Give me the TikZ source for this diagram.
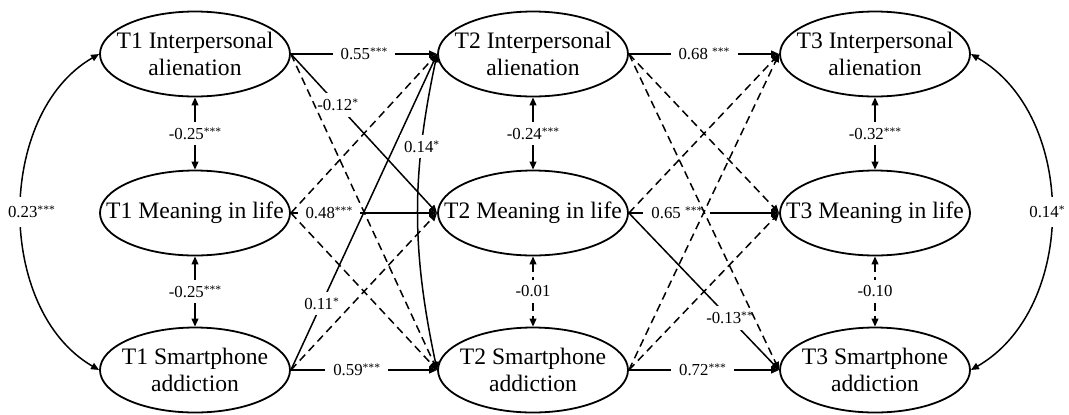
\documentclass[tikz,border=0pt]{standalone}
\usepackage{fontspec}
\setmainfont{Liberation Serif}
\usetikzlibrary{shapes.geometric,arrows.meta}

\newcommand{\pstar}[1]{\raisebox{1.9pt}{\fontsize{5.8}{6}\selectfont #1}}

\begin{document}
\begin{tikzpicture}[
        x=0.5pt, y=-0.5pt,
        >={Triangle[length=4pt,width=3.4pt]},
        latent/.style={draw, ellipse, line width=0.9pt, minimum width=95pt, minimum height=42.5pt, inner sep=0pt},
        vartext/.style={align=center, inner sep=0pt, font=\fontsize{11.8}{13.6}\selectfont},
        coef/.style={fill=white, inner xsep=4pt, inner ysep=3pt, font=\fontsize{8.4}{10}\selectfont},
        solidpath/.style={->, line width=0.75pt},
        dashpath/.style={->, line width=0.75pt, dash pattern=on 4pt off 2.5pt},
        cov/.style={<->, line width=0.75pt},
        dashcov/.style={<->, line width=0.75pt, dash pattern=on 4pt off 2.5pt},
    ]
    \useasboundingbox (0,0) rectangle (1069,414);

    \node[latent, label={[vartext, name=t1iaText]center:T1 Interpersonal\\alienation}] (t1ia) at (195,54) {};
    \node[latent, label={[vartext, name=t1mlText]center:T1 Meaning in life}] (t1ml) at (195,213) {};
    \node[latent, label={[vartext, name=t1saText]center:T1 Smartphone\\addiction}] (t1sa) at (195,370) {};
    \node[latent, label={[vartext, name=t2iaText]center:T2 Interpersonal\\alienation}] (t2ia) at (533,54) {};
    \node[latent, label={[vartext, name=t2mlText]center:T2 Meaning in life}] (t2ml) at (533,213) {};
    \node[latent, label={[vartext, name=t2saText]center:T2 Smartphone\\addiction}] (t2sa) at (533,370) {};
    \node[latent, label={[vartext, name=t3iaText]center:T3 Interpersonal\\alienation}] (t3ia) at (875,54) {};
    \node[latent, label={[vartext, name=t3mlText]center:T3 Meaning in life}] (t3ml) at (875,213) {};
    \node[latent, label={[vartext, name=t3saText]center:T3 Smartphone\\addiction}] (t3sa) at (875,370) {};

    \draw[solidpath] (t1ia.east) -- node[coef, pos=0.5] (b1) {0.55\pstar{***}} (t2ia.west);
    \draw[solidpath] (t1ml.east) -- node[coef, pos=0.26] (b2) {0.48\pstar{***}} (t2ml.west);
    \draw[solidpath] (t1sa.east) -- node[coef, pos=0.45] (b3) {0.59\pstar{***}} (t2sa.west);
    \draw[solidpath] (t2ia.east) -- node[coef, pos=0.5] (b4) {0.68 \pstar{***}} (t3ia.west);
    \draw[solidpath] (t2ml.east) -- node[coef, pos=0.32] (b5) {0.65 \pstar{***}} (t3ml.west);
    \draw[solidpath] (t2sa.east) -- node[coef, pos=0.49] (b6) {0.72\pstar{***}} (t3sa.west);

    \draw[solidpath] (t1ia.east) -- node[coef, pos=0.32] (b7) {-0.12\pstar{*}} (t2ml.west);
    \draw[solidpath] (t1sa.east) -- node[coef, pos=0.21] (b8) {0.11\pstar{*}} (t2ia.west);
    \draw[solidpath] (t2ml.east) -- node[coef, pos=0.67] (b9) {-0.13\pstar{**}} (t3sa.west);

    \draw[cov] (t1ia.south) -- node[coef] (r1) {-0.25\pstar{***}} (t1ml.north);
    \draw[cov] (t1ml.south) -- node[coef] (r2) {-0.25\pstar{***}} (t1sa.north);
    \draw[cov] (t2ia.south) -- node[coef] (r3) {-0.24\pstar{***}} (t2ml.north);
    \draw[dashcov] (t2ml.south) -- node[coef] (r4) {-0.01} (t2sa.north);
    \draw[cov] (t3ia.south) -- node[coef] (r5) {-0.32\pstar{***}} (t3ml.north);
    \draw[dashcov] (t3ml.south) -- node[coef] (r6) {-0.10} (t3sa.north);

    \draw[cov] (t1ia.west) to[out=210, in=150, looseness=0.97] node[coef, inner xsep=1pt, inner ysep=4.5pt, xshift=5pt] (r7) {0.23\pstar{***}} (t1sa.west);
    \draw[cov] (t2ia.west) to[bend right=12] node[coef, pos=0.28, inner xsep=2pt] (r8) {0.14\pstar{*}} (t2sa.west);
    \draw[cov] (t3ia.east) to[out=-30, in=30, looseness=1.0] node[coef, inner xsep=1pt, inner ysep=4.5pt, xshift=-2pt] (r9) {0.14\pstar{*}} (t3sa.east);

    \draw[dashpath] (t1ia.east) -- (t2sa.west);
    \draw[dashpath] (t1ml.east) -- (t2ia.west);
    \draw[dashpath] (t1ml.east) -- (t2sa.west);
    \draw[dashpath] (t1sa.east) -- (t2ml.west);
    \draw[dashpath] (t2ia.east) -- (t3ml.west);
    \draw[dashpath] (t2ia.east) -- (t3sa.west);
    \draw[dashpath] (t2ml.east) -- (t3ia.west);
    \draw[dashpath] (t2sa.east) -- (t3ia.west);
    \draw[dashpath] (t2sa.east) -- (t3ml.west);
\end{tikzpicture}
\end{document}
